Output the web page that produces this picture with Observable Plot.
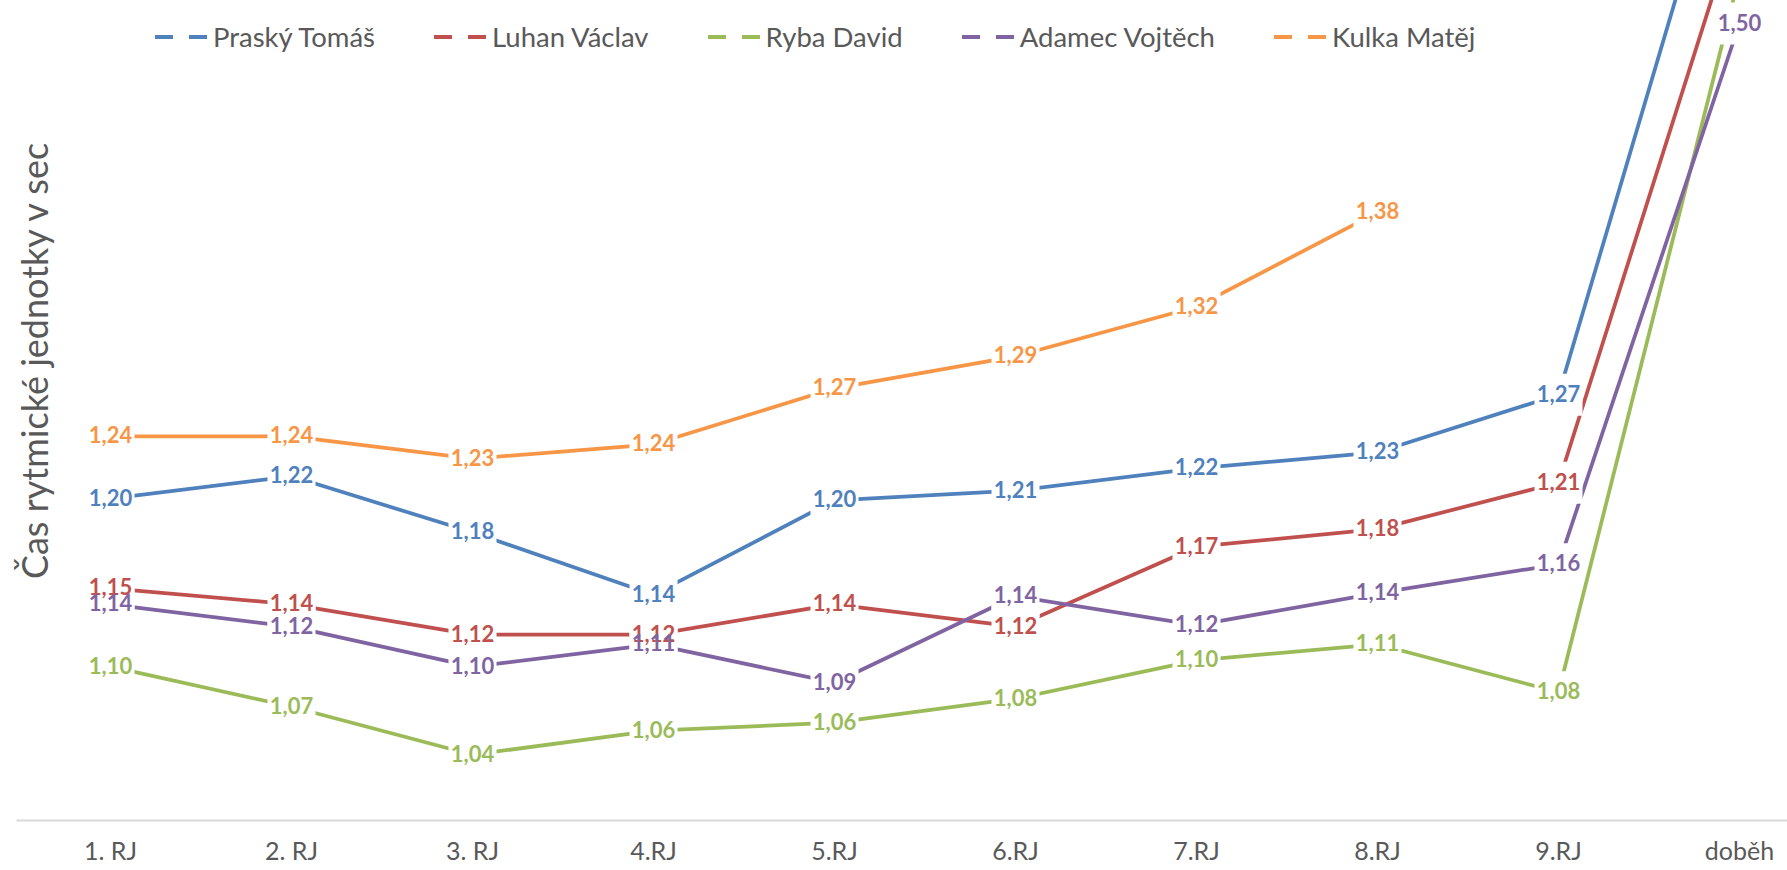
<!DOCTYPE html>
<html>
<head>
<meta charset="utf-8">
<script src="https://cdn.jsdelivr.net/npm/d3@7"></script>
<script src="https://cdn.jsdelivr.net/npm/@observablehq/plot@0.6"></script>
<style>
  html, body { margin: 0; padding: 0; background: #fff; }
  #wrap { position: relative; width: 1787px; height: 870px; overflow: hidden; font-family: Lato, sans-serif; }
  #chart { position: absolute; left: 0; top: 0; }
  #legend { position: absolute; left: 155px; top: 20px; display: flex; align-items: center; color: #595959; font-size: 27.5px; white-space: nowrap; }
  #legend .item { display: flex; align-items: center; margin-right: 59px; }
  #legend svg { display: block; margin-right: 5px; }
  #ytitle { position: absolute; left: 34px; top: 361px; transform: translate(-50%, -50%) rotate(-90deg); color: #595959; font-size: 36px; white-space: nowrap; }
</style>
</head>
<body>
<div id="wrap">
  <div id="chart"></div>
  <div id="legend"></div>
  <div id="ytitle"></div>
</div>
<script>
const categories = ["1. RJ", "2. RJ", "3. RJ", "4.RJ", "5.RJ", "6.RJ", "7.RJ", "8.RJ", "9.RJ", "doběh"];
const seriesNames = ["Praský Tomáš", "Luhan Václav", "Ryba David", "Adamec Vojtěch", "Kulka Matěj"];
const seriesColors = ["#4F81BD", "#C0504D", "#9BBB59", "#8064A2", "#F79646"];
const praskyTomas   = [1.203, 1.217, 1.182, 1.143, 1.202, 1.208, 1.222, 1.232, 1.268, 1.65];
const luhanVaclav   = [1.147, 1.137, 1.118, 1.118, 1.137, 1.123, 1.173, 1.184, 1.213, 1.57];
const rybaDavid     = [1.098, 1.073, 1.043, 1.058, 1.063, 1.078, 1.102, 1.112, 1.082, 1.53];
const adamecVojtech = [1.137, 1.123, 1.098, 1.112, 1.088, 1.142, 1.124, 1.144, 1.162, 1.50];
const kulkaMatej    = [1.242, 1.242, 1.228, 1.237, 1.272, 1.292, 1.323, 1.382, null, null];
const yTitle = "Čas rytmické jednotky v sec";

const seriesValues = [praskyTomas, luhanVaclav, rybaDavid, adamecVojtech, kulkaMatej];
const yMin = 1, yMax = 1.5;

const rows = [];
seriesNames.forEach((name, si) => {
  seriesValues[si].forEach((v, ci) => rows.push({series: name, cat: categories[ci], v}));
});
// labels only for points inside the visible value range (as in the original)
const labelRows = rows.filter(d => d.v != null && d.v <= yMax);
const fmt = v => d3.format(".2f")(v).replace(".", ",");

// white box behind each data label (cuts the line like the original)
const boxSymbol = { draw(ctx) { ctx.rect(-24, -21, 48, 42); } };

const chart = Plot.plot({
  width: 1787,
  height: 870,
  marginLeft: 17,
  marginRight: 0,
  marginTop: 0,
  marginBottom: 50,
  style: { fontFamily: "Lato, sans-serif", background: "white", overflow: "hidden" },
  x: { type: "point", domain: categories, range: [108, 1740], padding: 0, axis: null },
  y: { domain: [yMin, yMax], range: [823, 23], axis: null },
  color: { domain: seriesNames, range: seriesColors },
  marks: [
    Plot.frame({ anchor: "bottom", stroke: "#d9d9d9", strokeWidth: 2 }),
    Plot.axisX({ tickSize: 0, tickPadding: 22, fontSize: 25, color: "#595959", label: null }),
    Plot.line(rows, { x: "cat", y: "v", z: "series", stroke: "series", strokeWidth: 3.75, strokeLinejoin: "round" }),
    Plot.dot(labelRows, { x: "cat", y: "v", symbol: boxSymbol, r: 4, fill: "white", stroke: null }),
    Plot.text(labelRows, { x: "cat", y: "v", text: d => fmt(d.v), fill: "series", fontWeight: "bold", fontSize: 22 })
  ]
});
document.getElementById("chart").appendChild(chart);

// legend
const legend = document.getElementById("legend");
seriesNames.forEach((name, i) => {
  const item = document.createElement("div");
  item.className = "item";
  item.innerHTML = `<svg width="53" height="10"><line x1="0" x2="53" y1="5" y2="5" stroke="${seriesColors[i]}" stroke-width="4" stroke-dasharray="18 16"/></svg><span>${name}</span>`;
  legend.appendChild(item);
});
document.getElementById("ytitle").textContent = yTitle;
</script>
</body>
</html>
